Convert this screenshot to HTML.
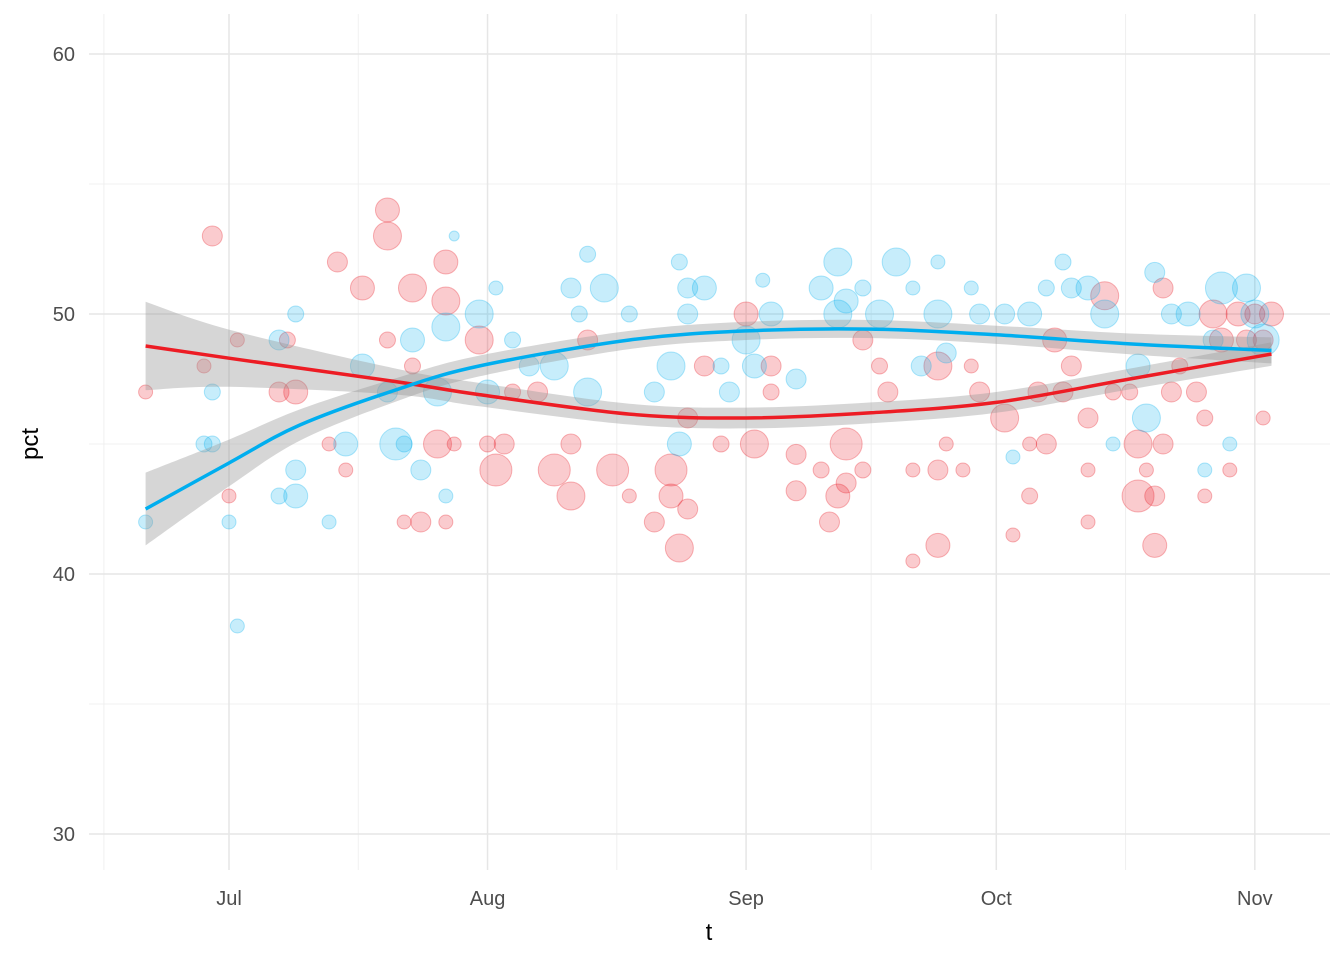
<!DOCTYPE html>
<html><head><meta charset="utf-8"><style>
body{margin:0;background:#fff}
svg text{font-family:"Liberation Sans",sans-serif}
</style></head><body>
<svg id="chart" width="1344" height="960" xmlns="http://www.w3.org/2000/svg">
<g id="grid"></g>
<g id="pts"></g>
<g id="smooth"></g>
<g id="axes"></g>
<text x="709" y="940" font-size="24" text-anchor="middle" fill="#000">t</text>
<text x="0" y="0" font-size="24" text-anchor="middle" fill="#000" transform="translate(38,444) rotate(-90)">pct</text>
</svg>
<script>
// Data (days relative to Jul 1, pct)
const redDays=[-10,-2,-3,1,0,6,8,7,12,13,14,16,19,19,19,21,22,22,23,26,26,26,25,27,30,31,32,33,34,37,39,41,41,43,46,48,51,53,53,54,55,55,57,59,63,62,65,65,68,68,71,72,73,74,74,76,76,78,79,82,82,85,85,85,86,88,89,90,93,94,96,96,97,98,99,100,101,103,103,103,105,106,108,109,109,110,111,111,112,112,113,114,116,117,117,118,119,120,121,122,123,124,125,124];
const redPct=[47,53,48,49,43,47,47,49,45,52,44,51,54,53,49,42,51,48,42,42,52,50.5,45,45,49,45,44,45,47,47,44,45,43,49,44,43,42,44,43,41,46,42.5,48,45,45,50,48,47,44.6,43.2,44,42,43,43.5,45,49,44,48,47,44,40.5,48,44,41.1,45,44,48,47,46,41.5,43,45,47,45,49,47,48,46,44,42,50.7,47,47,43,45,44,43,41.1,51,45,47,48,47,43,46,50,49,44,50,49,50,46,50,49];
const redSize=[7,10,7,7,7,10,12,8,7,10,7,12,12,14,8,7,14,8,10,7,12,14,14,7,14,8,16,10,8,10,16,10,14,10,16,7,10,16,12,14,10,10,10,8,14,12,10,8,10,10,8,10,12,10,16,10,8,8,10,7,7,14,10,12,7,7,7,10,14,7,8,7,10,10,12,10,10,10,7,7,14,8,8,16,14,7,10,12,10,10,10,8,10,7,8,14,12,7,12,10,10,7,12,10];
const blueDays=[-10,-3,-2,-2,0,1,6,6,8,8,8,12,14,16,19,20,21,22,23,25,26,26,27,30,31,32,34,36,39,41,42,43,43,45,48,51,53,54,54,55,55,57,59,60,62,63,64,65,68,71,73,73,74,76,78,80,82,83,85,85,86,89,90,93,94,96,98,100,101,103,105,106,109,110,111,113,115,117,118,119,120,122,123,124];
const bluePct=[42,45,45,47,42,38,49,43,50,44,43,42,45,48,47,45,45,49,44,47,49.5,43,53,50,47,51,49,48,48,51,50,52.3,47,51,50,47,48,52,45,51,50,51,48,47,49,48,51.3,50,47.5,51,52,50,50.5,51,50,52,51,48,50,52,48.5,51,50,50,44.5,50,51,52,51,51,50,45,48,46,51.6,50,50,44,49,51,45,51,50,49];
const blueSize=[7,8,8,8,7,7,10,8,8,10,12,7,12,12,10,16,8,12,10,14,14,7,5,14,12,7,8,10,14,10,8,8,14,14,8,10,14,8,12,10,10,12,8,10,14,12,7,12,10,12,14,14,12,8,14,14,7,10,14,7,10,7,10,10,7,12,8,8,10,12,14,7,12,14,10,10,12,7,10,16,7,14,14,16];
// Smooth fits
const redFitDays=[-10,0,20,30,48,62,77,92,108,125];
const redFit=[48.77,48.3,47.4,46.9,46.15,46.0,46.2,46.6,47.5,48.46];
const redSe=[1.7,1.1,0.5,0.45,0.4,0.4,0.4,0.4,0.4,0.45];
const blueFitDays=[-10,0,8.5,20,30,48,62,77,92,108,125];
const blueFit=[42.5,44.27,45.73,47.08,48.0,49.0,49.35,49.42,49.2,48.85,48.6];
const blueSe=[1.4,0.9,0.6,0.45,0.4,0.35,0.35,0.35,0.35,0.4,0.5];
const yTicks=[30,40,50,60];
const yMinor=[35,45,55];
const xTickDays=[0,31,62,92,123];
const xTickLabels=['Jul','Aug','Sep','Oct','Nov'];
const xMinorDays=[-15,15.5,46.5,77,107.5];

const X=d=>229+d*8.34, Y=p=>314-(p-50)*26;
const NS='http://www.w3.org/2000/svg';
function mk(tag,attrs,parent){const e=document.createElementNS(NS,tag);for(const k in attrs)e.setAttribute(k,attrs[k]);parent.appendChild(e);return e;}
const grid=document.getElementById('grid'),axes=document.getElementById('axes');
yMinor.forEach(v=>{const l=mk('line',{x1:89,x2:1330,y1:Y(v),y2:Y(v),stroke:'#f0f0f0','stroke-width':1},grid);

});
xMinorDays.forEach(v=>{const l=mk('line',{x1:X(v),x2:X(v),y1:14,y2:870,stroke:'#f0f0f0','stroke-width':1},grid);

});
yTicks.forEach(v=>{const l=mk('line',{x1:89,x2:1330,y1:Y(v),y2:Y(v),stroke:'#e6e6e6','stroke-width':1.5},grid);


const t=mk('text',{x:75,y:Y(v)+7,'font-size':20,'text-anchor':'end',fill:'#4d4d4d'},axes);t.textContent=v;

});
xTickDays.forEach((v,i)=>{const l=mk('line',{x1:X(v),x2:X(v),y1:14,y2:870,stroke:'#e6e6e6','stroke-width':1.5},grid);


const t=mk('text',{x:X(v),y:905,'font-size':20,'text-anchor':'middle',fill:'#4d4d4d'},axes);t.textContent=xTickLabels[i];

});
const pts=document.getElementById('pts');
function drawPts(days,pct,size,fill,stroke,name){days.forEach((d,i)=>{const c=mk('circle',{cx:X(d),cy:Y(pct[i]),r:size[i],fill:fill,'fill-opacity':0.22,stroke:stroke,'stroke-opacity':0.3,'stroke-width':1},pts);

});}
drawPts(redDays,redPct,redSize,'#e8141f','#e8141f','red-point');
drawPts(blueDays,bluePct,blueSize,'#00aeef','#00aeef','blue-point');
function spline(P){let d='M'+P[0][0]+','+P[0][1];for(let i=0;i<P.length-1;i++){const p0=P[Math.max(0,i-1)],p1=P[i],p2=P[i+1],p3=P[Math.min(P.length-1,i+2)];
d+=' C'+(p1[0]+(p2[0]-p0[0])/6)+','+(p1[1]+(p2[1]-p0[1])/6)+' '+(p2[0]-(p3[0]-p1[0])/6)+','+(p2[1]-(p3[1]-p1[1])/6)+' '+p2[0]+','+p2[1];}return d;}
const sm=document.getElementById('smooth');
function drawFit(days,fit,se,color,name){
 const up=days.map((d,i)=>[X(d),Y(fit[i]+se[i])]);const lo=days.map((d,i)=>[X(d),Y(fit[i]-se[i])]).reverse();
 const b=mk('path',{d:spline(up)+' L'+spline(lo).slice(1)+' Z',fill:'#999','fill-opacity':0.4},sm);
 
 
 return ()=>{const l=mk('path',{d:spline(days.map((d,i)=>[X(d),Y(fit[i])])),fill:'none',stroke:color,'stroke-width':3.5},sm);
 
 };
}
const lr=drawFit(redFitDays,redFit,redSe,'#ed1c24','red');
const lb=drawFit(blueFitDays,blueFit,blueSe,'#00aeef','blue');
lr();lb();
</script>
</body></html>
